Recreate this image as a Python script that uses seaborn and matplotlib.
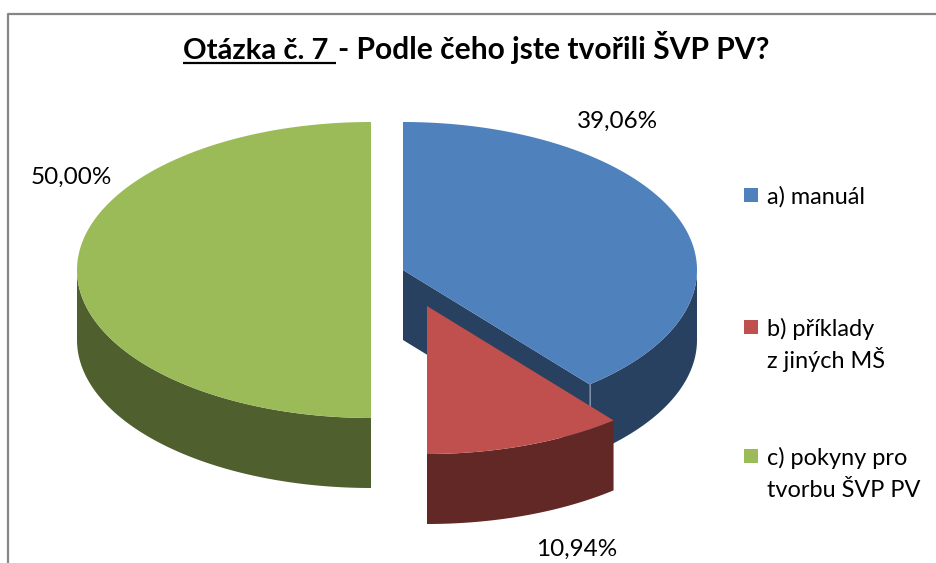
import numpy as np
import matplotlib.pyplot as plt
import seaborn as sns

# Data
categories = ["a) manuál", "b) příklady\nz jiných MŠ", "c) pokyny pro\ntvorbu ŠVP PV"]
shares = [39.06, 10.94, 50.00]
pct_labels = ["39,06%", "10,94%", "50,00%"]
top_colors = ["#4F81BD", "#C0504D", "#9BBB59"]
side_colors = ["#284160", "#622826", "#4F5F2D"]

sns.set_theme(style="white")
plt.rcParams["font.family"] = ["Lato", "DejaVu Sans"]

# Pie geometry, in pixels
RX, RY, DEPTH = 294, 148, 70
centers = [(403, 270), (427, 306), (371, 270)]
pct_pos = [(617, 121), (577, 549), (71, 177)]
legend_y = [195, 327, 456]
TITLE_SIZE = 21


def ell(cx, cy, a):
    # a = clockwise angle from 12 o'clock, radians
    return cx + RX * np.sin(a), cy - RY * np.cos(a)


fig = plt.figure(figsize=(9.36, 5.63), dpi=100)
ax = fig.add_axes([0, 0, 1, 1])
ax.set_xlim(0, 936)
ax.set_ylim(563, 0)
ax.axis("off")

# chart frame
ax.plot([8, 8, 936], [563, 14, 14], color="#868686", lw=1.6, solid_capstyle="butt")

edges = np.cumsum([0] + shares) / 100 * 2 * np.pi

# draw back to front: green, blue, red
for i in [2, 0, 1]:
    cx, cy = centers[i]
    a = np.linspace(edges[i], edges[i + 1], 200)
    x, y = ell(cx, cy, a)
    z = 5 if i == 1 else 2

    # outer wall, only the part facing the viewer
    front = (a >= np.pi / 2) & (a <= 3 * np.pi / 2)
    fx, fy = x[front], y[front]
    ax.fill(np.r_[fx, fx[::-1]], np.r_[fy, fy[::-1] + DEPTH],
            color=side_colors[i], lw=0, zorder=z)

    # cut wall of the blue slice, seen through the gap
    if i == 0:
        sx, sy = ell(cx, cy, edges[1])
        ax.fill([cx, sx, sx, cx], [cy, sy, sy + DEPTH, cy + DEPTH],
                color=side_colors[i], lw=0, zorder=z)
        ax.plot([sx, sx], [sy, sy + DEPTH], color="#8FA3BC", lw=0.6, zorder=z + 0.5)

    ax.fill(np.r_[cx, x], np.r_[cy, y], color=top_colors[i], lw=0, zorder=z + 1)

for lab, (px, py) in zip(pct_labels, pct_pos):
    ax.text(px, py, lab, ha="center", va="center", fontsize=17.5, color="black", zorder=8)

# legend, lines placed one by one so the spacing stays even
for y0, col, cat in zip(legend_y, top_colors, categories):
    ax.scatter([751], [y0], marker="s", s=102, color=col, lw=0, zorder=8)
    for k, line in enumerate(cat.split("\n")):
        ax.text(767, y0 + 9 + k * 32, line, ha="left", va="baseline", fontsize=16.9,
                color="black", zorder=8)

# title, first part underlined
# the trailing space is not measured on its own, so use a probe character
probe = ax.text(183, 59, "Otázka č. 7 |", fontsize=TITLE_SIZE, fontweight="bold")
bar = ax.text(183, 59, "|", fontsize=TITLE_SIZE, fontweight="bold")
fig.canvas.draw()
end_x = probe.get_window_extent().x1 - bar.get_window_extent().width
probe.remove()
bar.remove()
ax.text(183, 59, "Otázka č. 7 ", ha="left", va="baseline", fontsize=TITLE_SIZE,
        fontweight="bold", color="black")
ax.plot([183, end_x], [62.5, 62.5], color="black", lw=1.6, solid_capstyle="butt")
ax.text(end_x + 2, 59, "- Podle čeho jste tvořili ŠVP PV?", ha="left", va="baseline",
        fontsize=TITLE_SIZE + 0.6, fontweight="bold", color="black")

fig.savefig("out.png", dpi=100)
